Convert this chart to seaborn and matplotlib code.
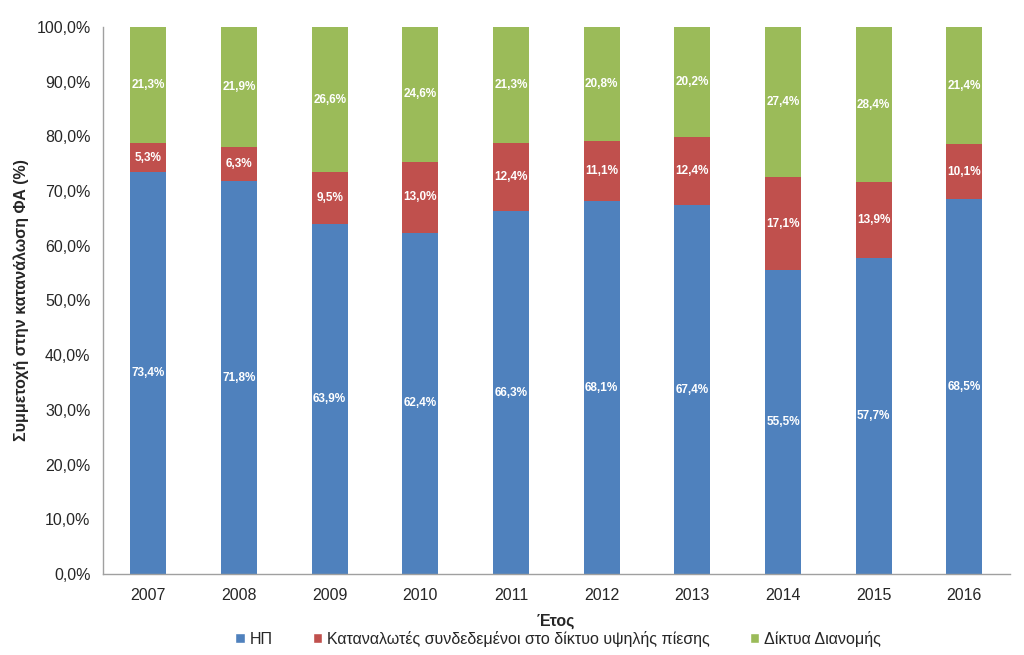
import matplotlib
matplotlib.use("Agg")
import matplotlib.pyplot as plt
from matplotlib.patches import Patch
import numpy as np
import pandas as pd
import seaborn as sns

years = ["2007", "2008", "2009", "2010", "2011", "2012", "2013", "2014", "2015", "2016"]
hp = [73.4, 71.8, 63.9, 62.4, 66.3, 68.1, 67.4, 55.5, 57.7, 68.5]
high_pressure = [5.3, 6.3, 9.5, 13.0, 12.4, 11.1, 12.4, 17.1, 13.9, 10.1]
distribution = [21.3, 21.9, 26.6, 24.6, 21.3, 20.8, 20.2, 27.4, 28.4, 21.4]

series_names = ["ΗΠ", "Καταναλωτές συνδεδεμένοι στο δίκτυο υψηλής πίεσης", "Δίκτυα Διανομής"]
colors = ["#4F81BD", "#C0504D", "#9BBB59"]

sns.set_style("white")
plt.rcParams["font.family"] = ["Liberation Sans", "DejaVu Sans"]

df = pd.DataFrame({"year": years, "hp": hp, "hpn": high_pressure, "dist": distribution})
df["c1"] = df["hp"]
df["c2"] = df["hp"] + df["hpn"]
df["c3"] = df["c2"] + df["dist"]

fig = plt.figure(figsize=(10.24, 6.55), dpi=100)
ax = fig.add_axes([0.1006, 0.1237, 0.8854, 0.8351])

# stacked by overdrawing cumulative totals, top segment first
for col, c in zip(["c3", "c2", "c1"], colors[::-1]):
    sns.barplot(data=df, x="year", y=col, color=c, width=0.4, saturation=1,
                linewidth=0, ax=ax)

# segment labels
for i in range(len(years)):
    bottoms = [0, df["c1"][i], df["c2"][i]]
    vals = [hp[i], high_pressure[i], distribution[i]]
    for b, v in zip(bottoms, vals):
        ax.text(i, b + v / 2, f"{v:.1f}%".replace(".", ","), ha="center", va="center",
                color="white", fontsize=8.5, fontweight="bold")

ax.set_ylim(0, 100)
ax.set_xlim(-0.5, len(years) - 0.5)
yt = np.arange(0, 101, 10)
ax.set_yticks(yt)
ax.set_yticklabels([f"{v:.1f}%".replace(".", ",") for v in yt], fontsize=11.5)
ax.set_xticks(range(len(years)))
ax.set_xticklabels(years, fontsize=11.5)
ax.tick_params(axis="x", length=0, pad=10)
ax.tick_params(axis="y", length=5, color="#A0A0A0", direction="out", pad=4)
# category boundary ticks
ax.set_xticks(np.arange(-0.5, len(years), 1), minor=True)
ax.tick_params(axis="x", which="minor", length=6, color="#A0A0A0", direction="out")

for s in ["top", "right"]:
    ax.spines[s].set_visible(False)
for s in ["left", "bottom"]:
    ax.spines[s].set_color("#A0A0A0")
    ax.spines[s].set_linewidth(1)

ax.set_xlabel("Έτος", fontsize=11.5, fontweight="bold", labelpad=8)
ax.set_ylabel("Συμμετοχή στην κατανάλωση ΦΑ (%)", fontsize=11.5, fontweight="bold", labelpad=5)

handles = [Patch(facecolor=c, label=n) for c, n in zip(colors, series_names)]
fig.legend(handles=handles, loc="center", bbox_to_anchor=(0.545, 0.025), ncol=3, frameon=False,
           fontsize=11.5, handlelength=0.6, handleheight=0.6, handletextpad=0.3, columnspacing=2.5)

fig.savefig("out.png", dpi=100)
